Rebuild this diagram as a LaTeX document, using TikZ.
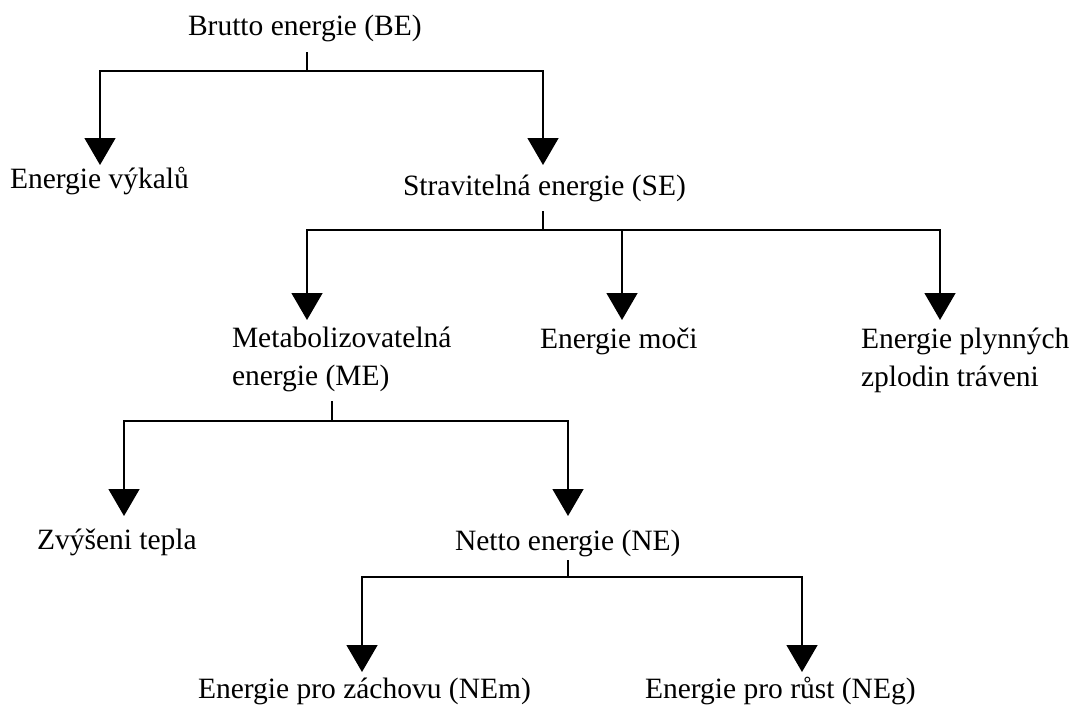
\documentclass[tikz,border=0pt]{standalone}
\usepackage{fontspec}
\setmainfont{Liberation Serif}
\usetikzlibrary{arrows.meta}
\begin{document}
\begin{tikzpicture}[x=1pt,y=1pt,
  lbl/.style={inner sep=0pt,outer sep=0pt,anchor=base west,align=left,
    font=\fontsize{29.5}{37.5}\selectfont},
  conn/.style={line width=1.5pt,black},
  arr/.style={conn,-{Triangle[width=31pt,length=27pt]}}]
\useasboundingbox (0,0) rectangle (1071,-709);
% texts (base anchor = baseline of the last line)
\node[lbl] (be)  at (188,-36)  {Brutto energie (BE)};
\node[lbl] (vyk) at (10,-188)  {Energie výkalů};
\node[lbl] (se)  at (403,-195) {Stravitelná energie (SE)};
\node[lbl] (me)  at (232,-385) {Metabolizovatelná\\energie (ME)};
\node[lbl] (mo)  at (540,-348) {Energie moči};
\node[lbl] (pl)  at (861,-386) {Energie plynných\\zplodin tráveni};
\node[lbl] (zv)  at (37,-549)  {Zvýšeni tepla};
\node[lbl] (ne)  at (455,-550) {Netto energie (NE)};
\node[lbl] (nem) at (198,-698) {Energie pro záchovu (NEm)};
\node[lbl] (neg) at (645,-698) {Energie pro růst (NEg)};
% bar junctions and arrow tips
\coordinate (b1) at (307,-71);
\coordinate (t1a) at (100,-165);
\coordinate (t1b) at (543,-165);
\coordinate (b2) at (543,-230);
\coordinate (t2a) at (307,-320);
\coordinate (t2b) at (622,-320);
\coordinate (t2c) at (940,-320);
\coordinate (b3) at (332,-421);
\coordinate (t3a) at (124,-516);
\coordinate (t3b) at (568,-516);
\coordinate (b4) at (568,-577);
\coordinate (t4a) at (362,-672);
\coordinate (t4b) at (802,-672);
% connectors
\draw[conn] (be.south -| b1) ++(0,-10) -- (b1);
\draw[arr] (b1) -| (t1a);
\draw[arr] (b1) -| (t1b);
\draw[conn] (se.south -| b2) ++(0,-10) -- (b2);
\draw[arr] (b2) -| (t2a);
\draw[arr] (b2) -| (t2b);
\draw[arr] (b2) -| (t2c);
\draw[conn] (me.south -| b3) ++(0,-10) -- (b3);
\draw[arr] (b3) -| (t3a);
\draw[arr] (b3) -| (t3b);
\draw[conn] (ne.south -| b4) ++(0,-4) -- (b4);
\draw[arr] (b4) -| (t4a);
\draw[arr] (b4) -| (t4b);
\end{tikzpicture}
\end{document}
